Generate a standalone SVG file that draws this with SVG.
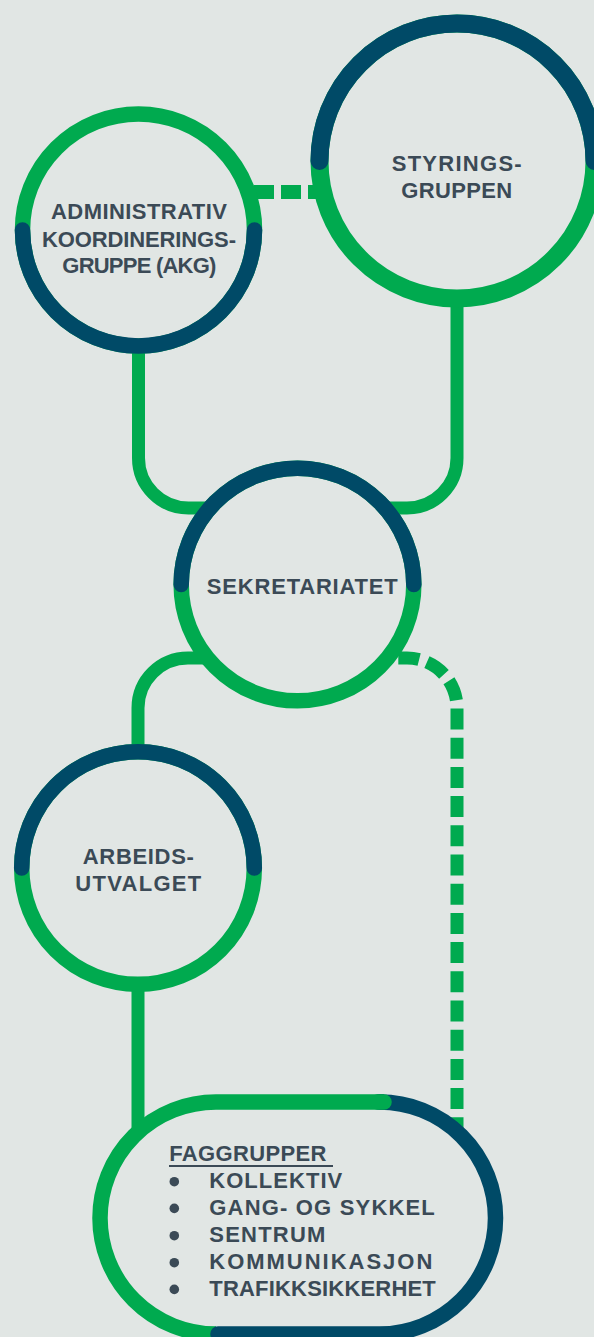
<svg xmlns="http://www.w3.org/2000/svg" width="594" height="1337" viewBox="0 0 594 1337">
<style>
.ring{fill:#e1e6e4;stroke:#00aa4f}
.g{fill:none;stroke:#00aa4f}
.b{fill:none;stroke:#004a67;stroke-linecap:round}
.conn{fill:none;stroke:#00aa4f;stroke-width:13}
.t{font-family:"Liberation Sans",Arial,sans-serif;font-weight:700;font-size:22px;fill:#3b4a56}
.c{text-anchor:middle}
.dot{fill:#3b4a56}
</style>
<rect width="594" height="1337" fill="#e1e6e4"/>
<g id="connectors">
<path class="conn" d="M254,192 H322" style="stroke-dasharray:20 7;stroke-width:14"/>
<path class="conn" d="M457,300 V458 A50,50 0 0 1 407,508 H385"/>
<path class="conn" d="M138.5,345 V458 A50,50 0 0 0 188.5,508 H212"/>
<path class="conn" d="M212,658 H188 A50,50 0 0 0 138,708 V752"/>
<path class="conn" d="M395,658 H407 A50,50 0 0 1 457,708 V1135" style="stroke-dasharray:21 8.2;stroke-dashoffset:-3.3"/>
<path class="conn" d="M138,985 V1135"/>
</g>
<g id="akg">
<circle class="ring" cx="138.5" cy="230" r="116" stroke-width="15.5"/>
<path class="b" stroke-width="15.5" d="M22.5,230 A116,116 0 0 0 254.5,230"/>
<text class="t c" x="139" y="219" textLength="176" lengthAdjust="spacing">ADMINISTRATIV</text>
<text class="t c" x="139" y="246.7" textLength="194" lengthAdjust="spacing">KOORDINERINGS-</text>
<text class="t c" x="139.3" y="273" textLength="154" lengthAdjust="spacing">GRUPPE (AKG)</text>
</g>
<g id="styringsgruppen">
<circle class="ring" cx="457" cy="161" r="137.5" stroke-width="18"/>
<path class="b" stroke-width="18" d="M319.5,161 A137.5,137.5 0 0 1 594.5,161"/>
<text class="t c" x="456.7" y="171.3" textLength="130" lengthAdjust="spacing">STYRINGS-</text>
<text class="t c" x="456.7" y="198.3" textLength="111" lengthAdjust="spacing">GRUPPEN</text>
</g>
<g id="sekretariatet">
<circle class="ring" cx="297.5" cy="584.5" r="116.3" stroke-width="15.5"/>
<path class="b" stroke-width="15.5" d="M181.2,584.5 A116.3,116.3 0 0 1 413.8,584.5"/>
<text class="t c" x="302.3" y="594" textLength="191" lengthAdjust="spacing">SEKRETARIATET</text>
</g>
<g id="arbeidsutvalget">
<circle class="ring" cx="138" cy="868" r="116.3" stroke-width="15.5"/>
<path class="b" stroke-width="15.5" d="M21.7,868 A116.3,116.3 0 0 1 254.3,868"/>
<text class="t c" x="138.3" y="864" textLength="111" lengthAdjust="spacing">ARBEIDS-</text>
<text class="t c" x="138.3" y="890.7" textLength="126" lengthAdjust="spacing">UTVALGET</text>
</g>
<g id="faggrupper">
<rect x="100" y="1102" width="395.5" height="232" rx="116" fill="#e1e6e4"/>
<path class="g" stroke-width="15.5" d="M216,1334 A116,116 0 0 1 216,1102 H384"/>
<path class="b" stroke-width="15.5" d="M379.5,1102 A116,116 0 0 1 379.5,1334 H218"/>
<path class="g" stroke-width="15.5" stroke-linecap="round" d="M378,1102 H384"/>
<text class="t" x="169.3" y="1160.7" textLength="157" lengthAdjust="spacing">FAGGRUPPER</text>
<line x1="169" y1="1166" x2="333" y2="1166" stroke="#3b4a56" stroke-width="1.8"/>
<circle class="dot" cx="174.3" cy="1181.7" r="4.8"/>
<circle class="dot" cx="174.3" cy="1208.4" r="4.8"/>
<circle class="dot" cx="174.3" cy="1235.7" r="4.8"/>
<circle class="dot" cx="174.3" cy="1262.7" r="4.8"/>
<circle class="dot" cx="174.3" cy="1289.4" r="4.8"/>
<text class="t" x="209.3" y="1188.3" textLength="133" lengthAdjust="spacing">KOLLEKTIV</text>
<text class="t" x="209.3" y="1215" textLength="225.5" lengthAdjust="spacing">GANG- OG SYKKEL</text>
<text class="t" x="209.3" y="1242.3" textLength="116" lengthAdjust="spacing">SENTRUM</text>
<text class="t" x="209.3" y="1269.3" textLength="223" lengthAdjust="spacing">KOMMUNIKASJON</text>
<text class="t" x="209.3" y="1296" textLength="226.5" lengthAdjust="spacing">TRAFIKKSIKKERHET</text>
</g>
</svg>
